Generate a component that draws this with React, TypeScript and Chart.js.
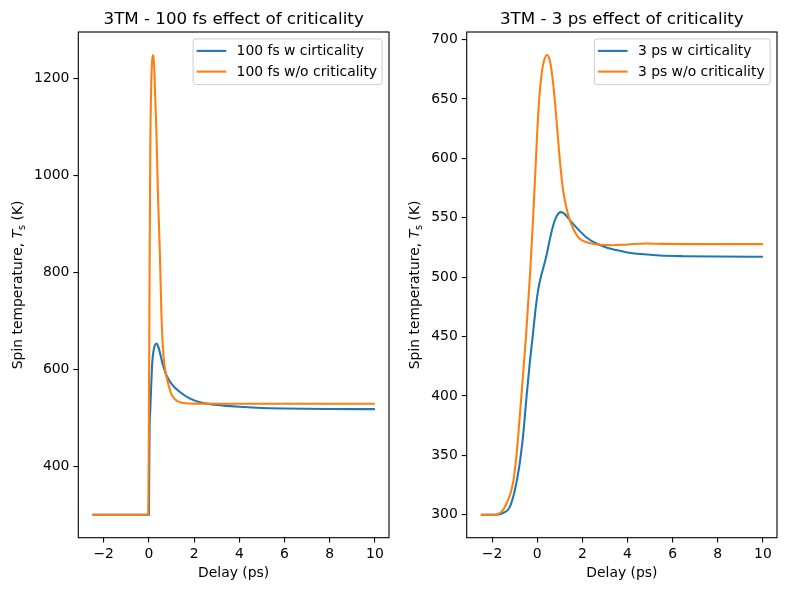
import { useEffect, useRef } from "react";
import { Chart, registerables } from "chart.js";

Chart.register(...registerables);

const BLUE = "#1f77b4";
const ORANGE = "#ff7f0e";
const FONT = "'DejaVu Sans', 'Liberation Sans', sans-serif";

// Shared delay ticks (ps)
const delayTicks = [-2, 0, 2, 4, 6, 8, 10];

// 100 fs pulse: spin temperature (K) vs delay (ps)
const fsDelayW = [-2.5, 0, 0.015, 0.03, 0.06, 0.1, 0.15, 0.22, 0.34, 0.45, 0.6, 0.78, 1.0, 1.37, 1.8, 2.26, 2.8, 3.29, 4, 4.76, 6, 8, 10];
const fsTempW = [300, 300, 400, 480, 515, 565, 615, 642, 653, 641, 612, 587, 570, 553, 540, 532, 527.5, 525, 522.5, 520.6, 519, 518, 517.7];
const fsDelayWo = [-2.5, -0.03, 0, 0.03, 0.06, 0.1, 0.14, 0.19, 0.23, 0.28, 0.33, 0.4, 0.48, 0.55, 0.6, 0.66, 0.72, 0.78, 0.9, 1.0, 1.15, 1.37, 1.6, 2.0, 3.0, 10];
const fsTempWo = [300, 300, 500, 800, 1050, 1180, 1235, 1248, 1228, 1160, 1093, 960, 847, 720, 660, 620, 598, 584, 562, 548, 538, 532, 530, 529, 528.8, 528.8];
const fsTempTicks = [400, 600, 800, 1000, 1200];

// 3 ps pulse: spin temperature (K) vs delay (ps)
const psDelayW = [-2.5, -1.8, -1.5, -1.23, -1.0, -0.8, -0.64, -0.47, -0.33, -0.19, -0.08, 0.0, 0.1, 0.2, 0.3, 0.42, 0.55, 0.7, 0.84, 0.95, 1.06, 1.2, 1.4, 1.58, 1.9, 2.17, 2.6, 3.06, 3.5, 3.94, 4.6, 5.42, 6.5, 8, 10];
const psTempW = [300, 300, 301.5, 306, 320, 340, 364, 400, 428, 452, 472, 484, 495, 503, 510, 519, 531, 543, 550.5, 553.8, 554.7, 553.5, 549, 545, 538.5, 533.6, 528.5, 525, 522.8, 521, 519.4, 518.2, 517.6, 517.3, 517.2];
const psDelayWo = [-2.5, -1.9, -1.6, -1.37, -1.08, -0.92, -0.71, -0.49, -0.31, -0.19, -0.08, 0.0, 0.07, 0.2, 0.3, 0.43, 0.55, 0.65, 0.77, 0.88, 0.99, 1.1, 1.21, 1.35, 1.5, 1.7, 1.87, 2.1, 2.4, 2.8, 3.34, 4.0, 4.8, 5.5, 7, 10];
const psTempWo = [300, 300, 302, 309, 326, 350, 398, 452, 505, 547, 590, 622, 645, 672, 682, 687, 683, 672, 651, 626, 601, 580, 566, 554, 545, 537, 532.5, 530, 528.3, 527.2, 526.8, 527.5, 528.3, 528, 527.8, 527.8];
const psTempTicks = [300, 350, 400, 450, 500, 550, 600, 650, 700];

const pairs = (xs: number[], ys: number[]) => xs.map((x, i) => ({ x, y: ys[i] }));

// matplotlib-style 5% margins around the data
function paddedRange(arrs: number[][]) {
  const all = arrs.flat();
  const lo = Math.min(...all);
  const hi = Math.max(...all);
  const pad = (hi - lo) * 0.05;
  return { min: lo - pad, max: hi + pad };
}

const fmtTick = (v: number) => (v < 0 ? "\u2212" + Math.abs(v) : String(v));

type PanelProps = {
  left: number;
  width: number;
  height: number;
  yAxisWidth: number;
  rightPad: number;
  title: string;
  labels: [string, string];
  legendWidth: number;
  yLabelX: number;
  wx: number[];
  wy: number[];
  wox: number[];
  woy: number[];
  yTicks: number[];
};

const decorPlugin = {
  id: "decor",
  afterDraw(chart: any, _args: any, opts: any) {
    const { ctx, chartArea: ca } = chart;
    ctx.save();
    // axes frame
    ctx.strokeStyle = "#000";
    ctx.lineWidth = 1.1;
    ctx.strokeRect(ca.left, ca.top, ca.right - ca.left, ca.bottom - ca.top);

    const cx = (ca.left + ca.right) / 2;
    ctx.fillStyle = "#000";
    // title
    ctx.font = `16.7px ${FONT}`;
    ctx.textAlign = "center";
    ctx.textBaseline = "alphabetic";
    ctx.fillText(opts.title, cx, ca.top - 8.3);

    // x label
    ctx.font = `13.9px ${FONT}`;
    ctx.fillText("Delay (ps)", cx, 576.5);

    // y label with math T_s
    const cy = (ca.top + ca.bottom) / 2;
    ctx.translate(opts.yLabelX, cy);
    ctx.rotate(-Math.PI / 2);
    ctx.textAlign = "left";
    const parts = [
      { t: "Spin temperature, ", f: `13.9px ${FONT}`, dy: 0 },
      { t: "T", f: `italic 13.9px ${FONT}`, dy: 0 },
      { t: "s", f: `9.7px ${FONT}`, dy: 2.6 },
      { t: " (K)", f: `13.9px ${FONT}`, dy: 0 },
    ];
    let total = 0;
    const widths = parts.map((p) => {
      ctx.font = p.f;
      const w = ctx.measureText(p.t).width;
      total += w;
      return w;
    });
    let px = -total / 2;
    parts.forEach((p, i) => {
      ctx.font = p.f;
      ctx.fillText(p.t, px, p.dy);
      px += widths[i];
    });
    ctx.restore();

    // legend
    ctx.save();
    const lw = opts.legendWidth;
    const lh = 45.7;
    const lx = ca.right - 6.9 - lw;
    const ly = ca.top + 6.9;
    ctx.beginPath();
    ctx.roundRect(lx, ly, lw, lh, 2.8);
    ctx.fillStyle = "rgba(255,255,255,0.8)";
    ctx.fill();
    ctx.strokeStyle = "#cccccc";
    ctx.lineWidth = 1;
    ctx.stroke();
    const colors = [BLUE, ORANGE];
    ctx.font = `13.9px ${FONT}`;
    ctx.textAlign = "left";
    ctx.textBaseline = "middle";
    opts.labels.forEach((lab: string, i: number) => {
      const yy = ly + 12 + i * 20.7;
      ctx.strokeStyle = colors[i];
      ctx.lineWidth = 2.08;
      ctx.beginPath();
      ctx.moveTo(lx + 3.5, yy);
      ctx.lineTo(lx + 33.2, yy);
      ctx.stroke();
      ctx.fillStyle = "#000";
      ctx.fillText(lab, lx + 43.5, yy + 0.5);
    });
    ctx.restore();
  },
};

function Panel(p: PanelProps) {
  const ref = useRef<HTMLCanvasElement | null>(null);
  useEffect(() => {
    if (!ref.current) return;
    const xr = paddedRange([p.wx, p.wox]);
    const yr = paddedRange([p.wy, p.woy]);
    const tickFont = { family: FONT, size: 13.9 };
    const grid = {
      drawOnChartArea: false,
      drawTicks: true,
      tickLength: 4.9,
      color: "#000",
      lineWidth: 1.1,
    };
    const chart = new Chart(ref.current, {
      type: "line",
      data: {
        datasets: [
          {
            label: p.labels[0],
            data: pairs(p.wx, p.wy),
            borderColor: BLUE,
            borderWidth: 2.08,
            pointRadius: 0,
            cubicInterpolationMode: "monotone",
            fill: false,
            order: 1,
          },
          {
            label: p.labels[1],
            data: pairs(p.wox, p.woy),
            borderColor: ORANGE,
            borderWidth: 2.08,
            pointRadius: 0,
            cubicInterpolationMode: "monotone",
            fill: false,
            order: 0,
          },
        ],
      },
      options: {
        responsive: false,
        animation: false,
        events: [],
        layout: { padding: { left: 0, right: p.rightPad, top: 32, bottom: 0 } },
        plugins: {
          legend: { display: false },
          title: { display: false },
          tooltip: { enabled: false },
          decor: {
            title: p.title,
            labels: p.labels,
            legendWidth: p.legendWidth,
            yLabelX: p.yLabelX,
          },
        } as any,
        scales: {
          x: {
            type: "linear",
            min: xr.min,
            max: xr.max,
            afterBuildTicks: (s: any) => {
              s.ticks = delayTicks.map((v) => ({ value: v }));
            },
            afterFit: (s: any) => {
              s.height = p.height - 537.7;
            },
            grid,
            border: { display: false },
            ticks: {
              color: "#000",
              font: tickFont,
              padding: 3,
              maxRotation: 0,
              autoSkip: false,
              callback: (v: any) => fmtTick(Number(v)),
            },
          },
          y: {
            type: "linear",
            min: yr.min,
            max: yr.max,
            afterBuildTicks: (s: any) => {
              s.ticks = p.yTicks.map((v) => ({ value: v }));
            },
            afterFit: (s: any) => {
              s.width = p.yAxisWidth;
            },
            grid,
            border: { display: false },
            ticks: {
              color: "#000",
              font: tickFont,
              padding: 4,
              autoSkip: false,
              callback: (v: any) => fmtTick(Number(v)),
            },
          },
        },
      },
      plugins: [decorPlugin],
    } as any);
    return () => chart.destroy();
  }, []);
  return (
    <canvas
      ref={ref}
      width={p.width}
      height={p.height}
      style={{ position: "absolute", left: p.left, top: 0, width: p.width, height: p.height }}
    />
  );
}

export default function App() {
  return (
    <div
      style={{
        position: "fixed",
        left: 0,
        top: 0,
        width: 787,
        height: 590,
        background: "#fff",
        overflow: "hidden",
      }}
    >
      <Panel
        left={0}
        width={393}
        height={590}
        yAxisWidth={78.3}
        rightPad={4}
        title="3TM - 100 fs effect of criticality"
        labels={["100 fs w cirticality", "100 fs w/o criticality"]}
        legendWidth={189}
        yLabelX={22}
        wx={fsDelayW}
        wy={fsTempW}
        wox={fsDelayWo}
        woy={fsTempWo}
        yTicks={fsTempTicks}
      />
      <Panel
        left={393}
        width={394}
        height={590}
        yAxisWidth={73.7}
        rightPad={10}
        title="3TM - 3 ps effect of criticality"
        labels={["3 ps w cirticality", "3 ps w/o criticality"]}
        legendWidth={175.7}
        yLabelX={26}
        wx={psDelayW}
        wy={psTempW}
        wox={psDelayWo}
        woy={psTempWo}
        yTicks={psTempTicks}
      />
    </div>
  );
}
